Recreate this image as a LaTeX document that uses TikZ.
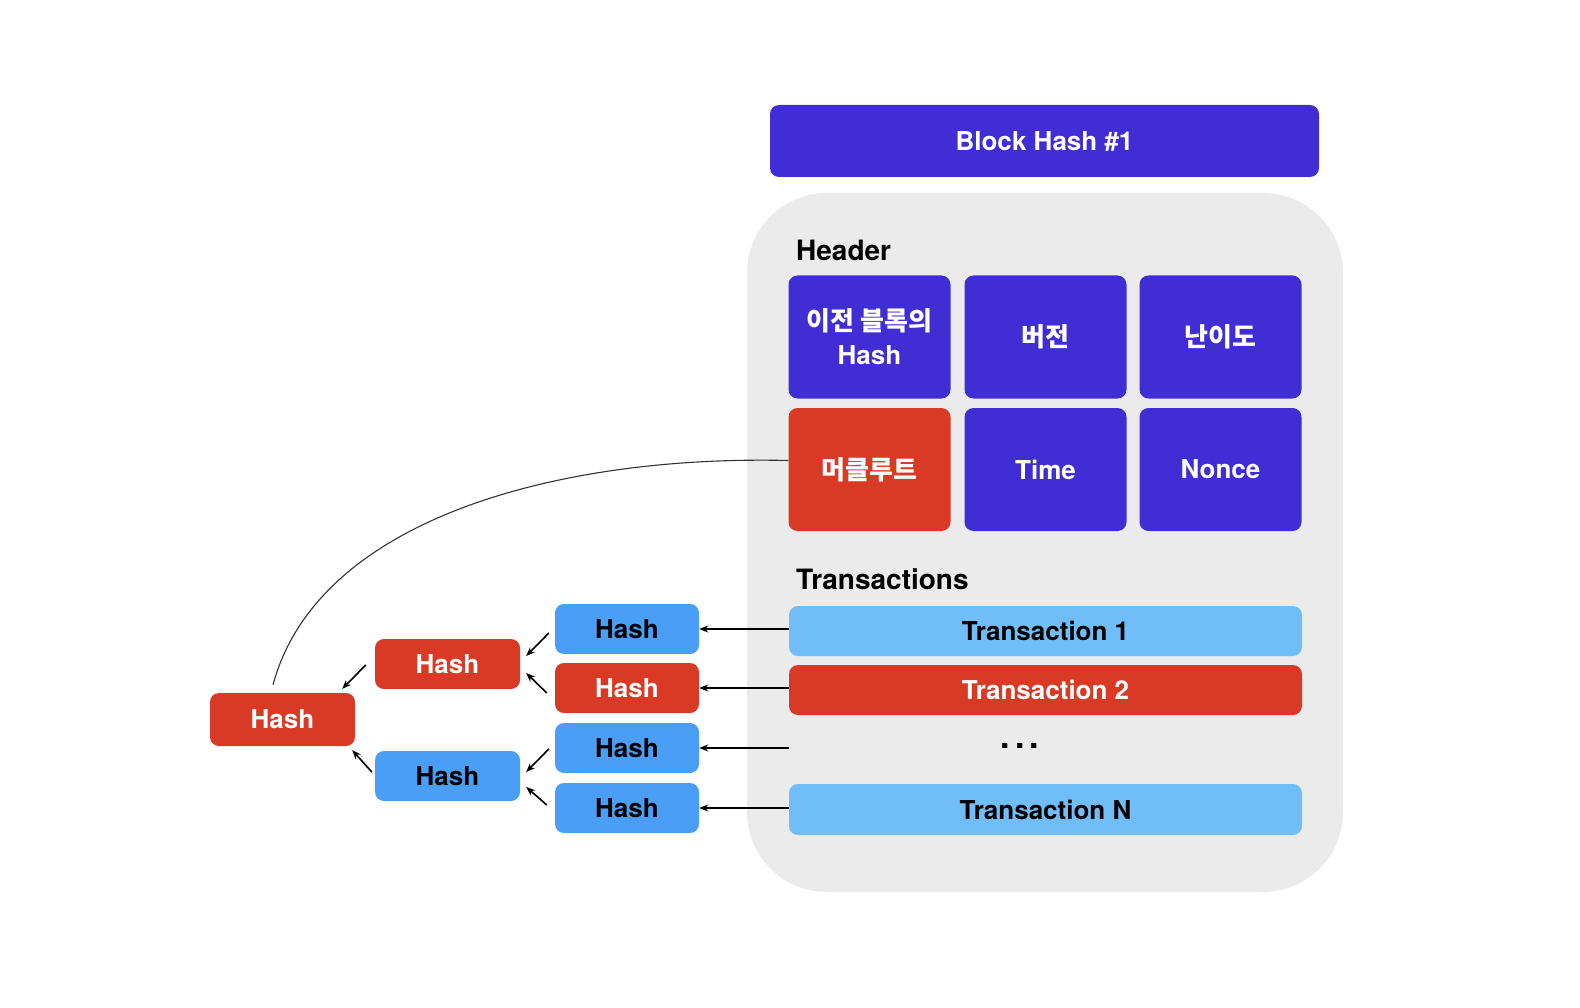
\documentclass[tikz,border=0pt]{standalone}
\usepackage{fontspec}
\setmainfont{TeX Gyre Heros}
\newfontfamily\kr{Noto Sans CJK KR}
\usetikzlibrary{arrows.meta,calc}
\definecolor{dblue}{RGB}{64,46,212}
\definecolor{hred}{RGB}{217,58,38}
\definecolor{lblue}{RGB}{112,189,247}
\definecolor{mblue}{RGB}{74,158,245}
\definecolor{panelgray}{RGB}{235,235,235}
\begin{document}
\begin{tikzpicture}[x=1pt,y=-1pt,
  box/.style={rounded corners=9pt, inner sep=0pt, font=\fontsize{26}{31}\selectfont\bfseries, align=center},
  purplebox/.style={box, fill=dblue, text=white},
  redbox/.style={box, fill=hred, text=white},
  txbox/.style={box, fill=lblue, text=black, minimum width=513pt, minimum height=50pt},
  hashbox/.style={box, fill=mblue, text=black, minimum width=144pt, minimum height=50pt},
  cell/.style={minimum width=162pt, minimum height=123pt},
  lab/.style={font=\fontsize{28}{33}\selectfont\bfseries, anchor=west, inner sep=0pt},
  arr/.style={-{Stealth[length=9pt,width=7pt]}, line width=1.6pt, black},
  link/.style={line width=1.1pt, black!80}
]
\useasboundingbox (0,0) rectangle (1580,1008);
% block hash
\node[purplebox, minimum width=549pt, minimum height=72pt] (blk) at (1044.5,141) {Block Hash \#1};
% panel
\fill[panelgray, rounded corners=80pt] (747,193) rectangle (1343,892);
\node[lab] (hdr) at (796,250) {Header};
% header grid
\node[purplebox, cell] (prev) at (869.5,337) {{\kr\bfseries 이전 블록의}\\[3pt]Hash};
\node[purplebox, cell] (ver) at (1045.5,337) {\kr\bfseries 버전};
\node[purplebox, cell] (diff) at (1220.5,337) {\kr\bfseries 난이도};
\node[redbox, cell] (mk) at (869.5,469.5) {\kr\bfseries 머클루트};
\node[purplebox, cell] (time) at (1045.5,469.5) {Time};
\node[purplebox, cell] (nonce) at (1220.5,469.5) {Nonce};
% transactions
\node[lab] (trl) at (796,579) {Transactions};
\node[txbox] (tx1) at (1045.5,631) {Transaction 1};
\node[txbox, fill=hred, text=white] (tx2) at (1045.5,690) {Transaction 2};
\node[font=\fontsize{34}{36}\selectfont\bfseries, inner sep=0pt] (dots) at (1020,746) {.\hspace{5pt}.\hspace{5pt}.};
\coordinate (txd) at (789,748);
\node[txbox, minimum height=51pt] (txn) at (1045.5,809.5) {Transaction N};
% level 1 hashes
\node[hashbox] (h1) at (627,629) {Hash};
\node[hashbox, fill=hred, text=white] (h2) at (627,688) {Hash};
\node[hashbox] (h3) at (627,748) {Hash};
\node[hashbox] (h4) at (627,808) {Hash};
% level 2 hashes
\node[hashbox, fill=hred, text=white, minimum width=145pt] (m1) at (447.5,664) {Hash};
\node[hashbox, minimum width=145pt] (m2) at (447.5,776) {Hash};
% root
\node[hashbox, fill=hred, text=white, minimum width=145pt, minimum height=53pt] (root) at (282.5,719.5) {Hash};
% tx -> level 1
\draw[arr] (tx1.west |- h1.east) -- (h1.east);
\draw[arr] (tx2.west |- h2.east) -- (h2.east);
\draw[arr] (txd |- h3.east) -- (h3.east);
\draw[arr] (txn.west |- h4.east) -- (h4.east);
% level 1 -> level 2
\draw[arr] ([xshift=-6pt,yshift=-4pt]h1.west) -- ([xshift=6pt,yshift=8pt]m1.east);
\draw[arr] ([xshift=-8pt,yshift=-5pt]h2.west) -- ([xshift=6pt,yshift=-9pt]m1.east);
\draw[arr] ([xshift=-6pt,yshift=-1pt]h3.west) -- ([xshift=6pt,yshift=4pt]m2.east);
\draw[arr] ([xshift=-8pt,yshift=3pt]h4.west) -- ([xshift=6pt,yshift=-11pt]m2.east);
% level 2 -> root
\draw[arr] ([xshift=-9pt,yshift=-1pt]m1.west) -- ([xshift=-13pt,yshift=4pt]root.north east);
\draw[arr] ([xshift=-3pt,yshift=4pt]m2.west) -- ([xshift=-3pt,yshift=-4pt]root.south east);
% root -> merkle root
\draw[link] ([xshift=-9.5pt,yshift=8pt]root.north) .. controls (318,518) and (560,455) .. ([yshift=9pt]mk.west);
\end{tikzpicture}
\end{document}
